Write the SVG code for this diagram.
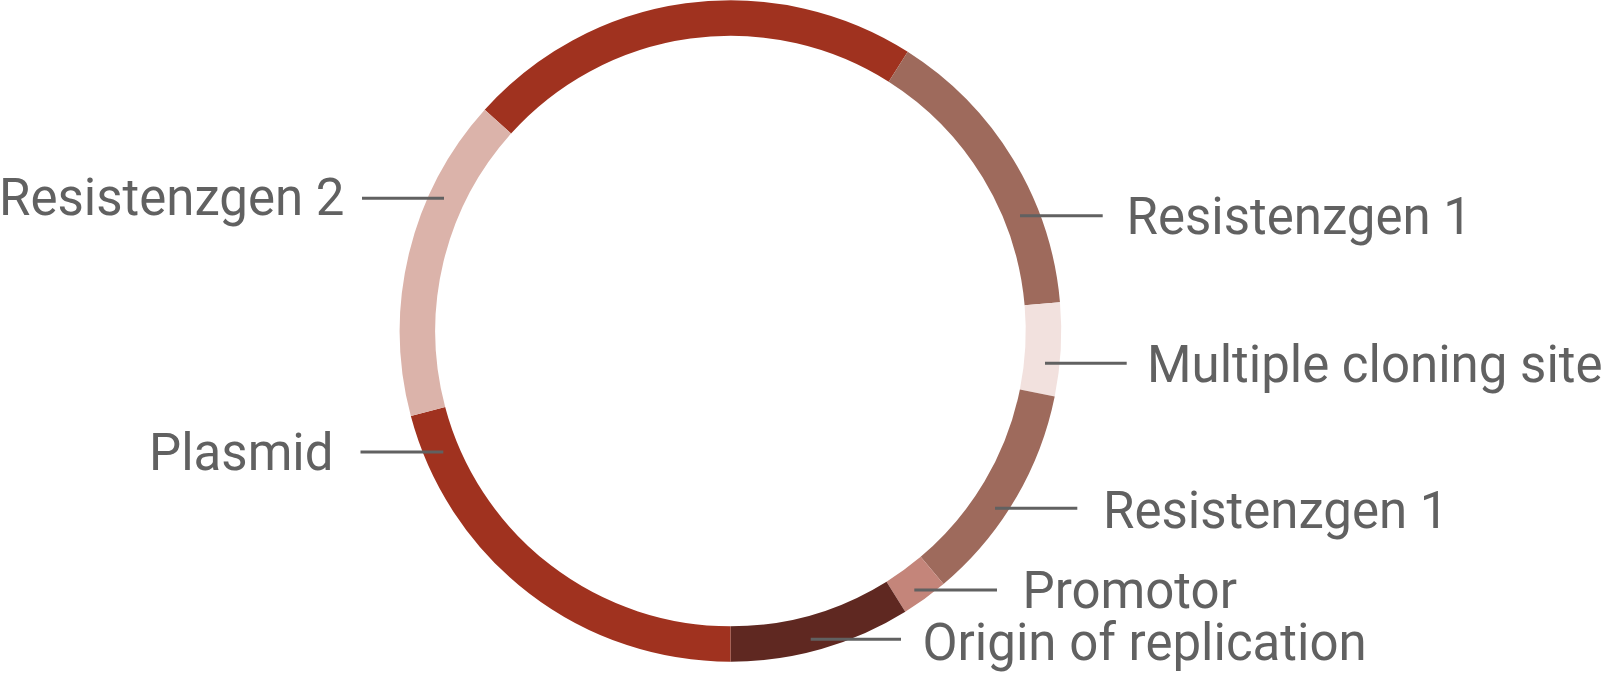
<svg xmlns="http://www.w3.org/2000/svg" width="1602" height="675" viewBox="0 0 1602 675">
<style>
.seg{fill:none;stroke-width:35.5;stroke-linecap:butt}
.lead{stroke:#616161;stroke-width:3;fill:none}
.lbl{font-family:Roboto,"Liberation Sans",sans-serif;font-size:51px;fill:#616161}
</style>
<rect width="1602" height="675" fill="#ffffff"/>
<g id="ring">
<g id="seg-plasmid-top"><path class="seg" stroke="#A0321F" d="M497.9,121.6 A313,313 0 0 1 898.2,66.7"/></g>
<g id="seg-res1-top"><path class="seg" stroke="#9E6A5C" d="M898.2,66.7 A313,313 0 0 1 1042.3,303.7"/></g>
<g id="seg-mcs"><path class="seg" stroke="#F2E1DE" d="M1042.3,303.7 A313,313 0 0 1 1037.3,392.9"/></g>
<g id="seg-res1-bottom"><path class="seg" stroke="#9E6A5C" d="M1037.3,392.9 A313,313 0 0 1 932.1,570.4"/></g>
<g id="seg-promotor"><path class="seg" stroke="#C4857A" d="M932.1,570.4 A313,313 0 0 1 895.9,596.7"/></g>
<g id="seg-origin"><path class="seg" stroke="#5F2821" d="M895.9,596.7 A313,313 0 0 1 730.5,644"/></g>
<g id="seg-plasmid-bottom"><path class="seg" stroke="#A0321F" d="M730.5,644 A313,313 0 0 1 428.0,411.5"/></g>
<g id="seg-res2"><path class="seg" stroke="#DBB3AA" d="M428.0,411.5 A313,313 0 0 1 497.9,121.6"/></g>
</g>
<g id="connectors">
<line class="lead" x1="362" y1="198.3" x2="444" y2="198.3"/>
<line class="lead" x1="360.5" y1="452" x2="443.3" y2="452"/>
<line class="lead" x1="1020" y1="215.7" x2="1102.7" y2="215.7"/>
<line class="lead" x1="1045" y1="363.3" x2="1126.7" y2="363.3"/>
<line class="lead" x1="995" y1="508.3" x2="1077.3" y2="508.3"/>
<line class="lead" x1="914.3" y1="590" x2="997" y2="590"/>
<line class="lead" x1="810.7" y1="639.3" x2="901" y2="639.3"/>
</g>
<g id="label-res2"><text class="lbl" x="-1" y="215">Resistenzgen 2</text></g>
<g id="label-plasmid"><text class="lbl" x="149" y="470">Plasmid</text></g>
<g id="label-res1-top"><text class="lbl" x="1126.5" y="234">Resistenzgen 1</text></g>
<g id="label-mcs"><text class="lbl" x="1147" y="381.5">Multiple cloning site</text></g>
<g id="label-res1-bottom"><text class="lbl" x="1103" y="527.5">Resistenzgen 1</text></g>
<g id="label-promotor"><text class="lbl" x="1022.5" y="608">Promotor</text></g>
<g id="label-origin"><text class="lbl" x="922.5" y="660">Origin of replication</text></g>
</svg>
